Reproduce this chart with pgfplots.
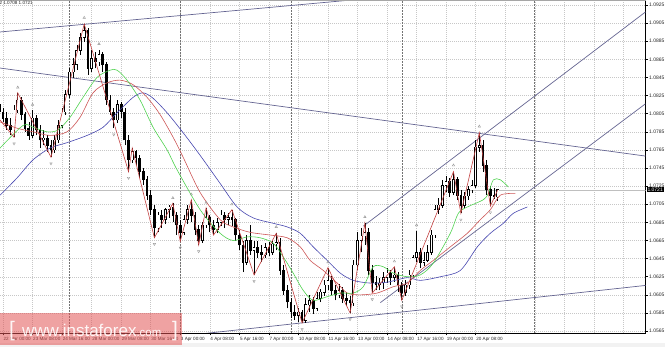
\documentclass[border=0pt]{standalone}
\usepackage{fontspec}
\setmainfont{Liberation Sans}
\usepackage{pgfplots}
\usepackage{pgfplotstable}
\pgfplotsset{compat=1.18}
\definecolor{maGreen}{RGB}{80,210,80}
\definecolor{maRed}{RGB}{205,85,85}
\definecolor{maBlue}{RGB}{70,70,175}
\definecolor{zzRed}{RGB}{195,65,65}
\definecolor{trend}{RGB}{100,100,145}
\definecolor{wm}{RGB}{225,85,85}

\pgfplotstableread{
i o h l c
-1 1.0815 1.0822 1.0800 1.0807
0 1.0807 1.0811 1.0796 1.0800
1 1.0800 1.0807 1.0787 1.0792
2 1.0792 1.0800 1.0781 1.0787
3 1.0787 1.0815 1.0779 1.0809
4 1.0809 1.0828 1.0806 1.0820
5 1.0820 1.0823 1.0798 1.0804
6 1.0804 1.0807 1.0785 1.0789
7 1.0789 1.0796 1.0776 1.0781
8 1.0781 1.0809 1.0778 1.0800
9 1.0800 1.0804 1.0781 1.0787
10 1.0787 1.0792 1.0767 1.0776
11 1.0776 1.0787 1.0770 1.0778
12 1.0778 1.0781 1.0763 1.0770
13 1.0770 1.0776 1.0757 1.0765
14 1.0765 1.0781 1.0762 1.0776
15 1.0776 1.0798 1.0773 1.0792
16 1.0792 1.0811 1.0789 1.0807
17 1.0807 1.0831 1.0804 1.0826
18 1.0826 1.0855 1.0822 1.0851
19 1.0851 1.0866 1.0844 1.0859
20 1.0859 1.0881 1.0853 1.0875
21 1.0875 1.0894 1.0870 1.0889
22 1.0889 1.0904 1.0884 1.0897
23 1.0897 1.0900 1.0848 1.0855
24 1.0855 1.0875 1.0851 1.0866
25 1.0866 1.0873 1.0855 1.0862
26 1.0862 1.0875 1.0858 1.0870
27 1.0870 1.0873 1.0851 1.0859
28 1.0859 1.0862 1.0815 1.0820
29 1.0820 1.0826 1.0804 1.0807
30 1.0807 1.0811 1.0789 1.0798
31 1.0798 1.0820 1.0795 1.0815
32 1.0815 1.0818 1.0800 1.0807
33 1.0807 1.0811 1.0770 1.0776
34 1.0776 1.0781 1.0741 1.0754
35 1.0754 1.0767 1.0751 1.0763
36 1.0763 1.0765 1.0748 1.0756
37 1.0756 1.0759 1.0734 1.0741
38 1.0741 1.0745 1.0726 1.0732
39 1.0732 1.0736 1.0710 1.0715
40 1.0715 1.0721 1.0693 1.0699
41 1.0699 1.0704 1.0668 1.0679
42 1.0679 1.0696 1.0674 1.0693
43 1.0693 1.0699 1.0679 1.0688
44 1.0688 1.0701 1.0683 1.0699
45 1.0699 1.0704 1.0690 1.0702
46 1.0702 1.0706 1.0685 1.0693
47 1.0693 1.0696 1.0671 1.0682
48 1.0682 1.0688 1.0664 1.0674
49 1.0674 1.0693 1.0671 1.0688
50 1.0688 1.0704 1.0683 1.0699
51 1.0699 1.0710 1.0685 1.0693
52 1.0693 1.0696 1.0671 1.0677
53 1.0677 1.0682 1.0660 1.0665
54 1.0665 1.0685 1.0662 1.0682
55 1.0682 1.0701 1.0679 1.0690
56 1.0690 1.0693 1.0674 1.0682
57 1.0682 1.0688 1.0671 1.0677
58 1.0677 1.0690 1.0673 1.0685
59 1.0685 1.0699 1.0681 1.0693
60 1.0693 1.0696 1.0679 1.0688
61 1.0688 1.0695 1.0682 1.0690
62 1.0690 1.0699 1.0681 1.0688
63 1.0688 1.0690 1.0665 1.0671
64 1.0671 1.0677 1.0654 1.0660
65 1.0660 1.0665 1.0630 1.0641
66 1.0641 1.0671 1.0638 1.0665
67 1.0665 1.0682 1.0649 1.0654
68 1.0654 1.0665 1.0627 1.0657
69 1.0657 1.0665 1.0646 1.0652
70 1.0652 1.0660 1.0641 1.0649
71 1.0649 1.0662 1.0646 1.0657
72 1.0657 1.0663 1.0648 1.0652
73 1.0652 1.0665 1.0649 1.0661
74 1.0661 1.0673 1.0654 1.0663
75 1.0663 1.0668 1.0627 1.0632
76 1.0632 1.0638 1.0605 1.0610
77 1.0610 1.0616 1.0590 1.0597
78 1.0597 1.0601 1.0579 1.0586
79 1.0586 1.0594 1.0577 1.0582
80 1.0582 1.0590 1.0575 1.0586
81 1.0586 1.0588 1.0574 1.0577
82 1.0577 1.0601 1.0574 1.0594
83 1.0594 1.0605 1.0586 1.0599
84 1.0599 1.0603 1.0584 1.0590
85 1.0590 1.0608 1.0587 1.0601
86 1.0601 1.0612 1.0597 1.0608
87 1.0608 1.0621 1.0604 1.0616
88 1.0616 1.0635 1.0610 1.0621
89 1.0621 1.0626 1.0605 1.0610
90 1.0610 1.0616 1.0599 1.0605
91 1.0605 1.0617 1.0601 1.0610
92 1.0610 1.0614 1.0596 1.0601
93 1.0601 1.0608 1.0593 1.0599
94 1.0599 1.0604 1.0585 1.0596
95 1.0596 1.0643 1.0593 1.0638
96 1.0638 1.0674 1.0632 1.0665
97 1.0665 1.0679 1.0652 1.0670
98 1.0670 1.0684 1.0660 1.0674
99 1.0674 1.0679 1.0627 1.0632
100 1.0632 1.0638 1.0607 1.0619
101 1.0619 1.0626 1.0610 1.0616
102 1.0616 1.0624 1.0610 1.0618
103 1.0618 1.0630 1.0612 1.0624
104 1.0624 1.0635 1.0618 1.0629
105 1.0629 1.0632 1.0616 1.0624
106 1.0624 1.0636 1.0619 1.0627
107 1.0627 1.0630 1.0608 1.0616
108 1.0616 1.0619 1.0599 1.0608
109 1.0608 1.0621 1.0604 1.0616
110 1.0616 1.0632 1.0612 1.0627
111 1.0627 1.0649 1.0624 1.0646
112 1.0646 1.0675 1.0641 1.0652
113 1.0652 1.0657 1.0635 1.0641
114 1.0641 1.0652 1.0637 1.0643
115 1.0643 1.0660 1.0641 1.0652
116 1.0652 1.0677 1.0649 1.0671
117 1.0671 1.0704 1.0668 1.0699
118 1.0699 1.0712 1.0694 1.0704
119 1.0704 1.0732 1.0701 1.0726
120 1.0726 1.0736 1.0718 1.0730
121 1.0730 1.0734 1.0713 1.0718
122 1.0718 1.0741 1.0715 1.0732
123 1.0732 1.0735 1.0710 1.0715
124 1.0715 1.0721 1.0695 1.0704
125 1.0704 1.0718 1.0701 1.0714
126 1.0714 1.0725 1.0710 1.0721
127 1.0721 1.0732 1.0717 1.0726
128 1.0726 1.0776 1.0723 1.0768
129 1.0768 1.0784 1.0763 1.0770
130 1.0770 1.0776 1.0741 1.0748
131 1.0748 1.0754 1.0715 1.0721
132 1.0721 1.0725 1.0703 1.0715
133 1.0715 1.0723 1.0711 1.0713
134 1.0713 1.0722 1.0709 1.0721
}\candles

\begin{document}
\begin{tikzpicture}
\useasboundingbox (0,0) rectangle (665pt,347pt);
\fill[black!5] (0,0) rectangle (665pt,4pt);
\begin{axis}[
  at={(0pt,14pt)}, anchor=south west,
  scale only axis, width=645.5pt, height=332pt,
  xmin=-0.81, xmax=174, ymin=1.05629, ymax=1.09294,
  axis x line*=bottom, axis y line*=right,
  axis line style={black, line width=0.6pt},
  tick align=outside, major tick length=2.5pt,
  tick style={black, line width=0.5pt},
  scaled y ticks=false,
  xtick={0,8,...,128},
  xticklabels={22 Mar 00:00, 23 Mar 08:00, 24 Mar 16:00, 28 Mar 00:00, 29 Mar 08:00, 30 Mar 16:00, 3 Apr 00:00, 4 Apr 08:00, 5 Apr 16:00, 7 Apr 00:00, 10 Apr 08:00, 11 Apr 16:00, 13 Apr 00:00, 14 Apr 08:00, 17 Apr 16:00, 19 Apr 00:00, 20 Apr 08:00},
  extra x ticks={136,144,152,160,168},
  extra x tick labels={},
  extra x tick style={grid=major, major tick length=0pt},
  ytick={1.0565,1.0585,1.0605,1.0625,1.0645,1.0665,1.0685,1.0705,1.0725,1.0745,1.0765,1.0785,1.0805,1.0825,1.0845,1.0865,1.0885,1.0905,1.0925},
  grid=major,
  major grid style={draw=black!22, dash pattern=on 1pt off 1pt, line width=0.4pt},
  xticklabel style={font=\fontsize{4.6}{5}\selectfont, anchor=north west, inner sep=0pt, xshift=0.5pt, yshift=-2pt, text=black!85},
  yticklabel style={font=\fontsize{5}{6}\selectfont, anchor=west, inner sep=0pt, xshift=1pt, text=black!85,
    /pgf/number format/.cd, fixed, fixed zerofill, precision=4, assume math mode=true},
]
% period separators
\addplot[black!55, dash pattern=on 1.5pt off 1.5pt, line width=0.5pt, forget plot] coordinates {(18,1.05) (18,1.10)};
\addplot[black!55, dash pattern=on 1.5pt off 1.5pt, line width=0.5pt, forget plot] coordinates {(48,1.05) (48,1.10)};
\addplot[black!55, dash pattern=on 1.5pt off 1.5pt, line width=0.5pt, forget plot] coordinates {(78,1.05) (78,1.10)};
\addplot[black!55, dash pattern=on 1.5pt off 1.5pt, line width=0.5pt, forget plot] coordinates {(108,1.05) (108,1.10)};
\addplot[black!55, dash pattern=on 1.5pt off 1.5pt, line width=0.5pt, forget plot] coordinates {(144,1.05) (144,1.10)};
% current price line
\addplot[black!25, line width=0.5pt, forget plot] coordinates {(-1,1.0721) (175,1.0721)};
% trend lines
\addplot[trend, line width=0.7pt, forget plot] coordinates {(-0.81,1.08952) (107.6,1.09354)};
\addplot[trend, line width=0.7pt, forget plot] coordinates {(-0.81,1.08554) (174,1.07582)};
\addplot[trend, line width=0.7pt, forget plot] coordinates {(48,1.05594) (174,1.06154)};
\addplot[trend, line width=0.7pt, forget plot] coordinates {(97.6,1.06809) (174,1.09173)};
\addplot[trend, line width=0.7pt, forget plot] coordinates {(102.2,1.05964) (174,1.08159)};
% candles: wicks
\addplot[draw=none, mark=none, forget plot,
  error bars/.cd, y dir=plus, y explicit, error mark=none,
  error bar style={draw=black, line width=0.6pt}]
  table[x=i, y=l, y error plus expr={\thisrow{h}-\thisrow{l}}] {\candles};
% bodies
\addplot[draw=none, mark=none, forget plot,
  error bars/.cd, y dir=plus, y explicit, error mark=none,
  error bar style={draw=black, line width=2.7pt}]
  table[x=i, y expr={min(\thisrow{o},\thisrow{c})-0.00004}, y error plus expr={abs(\thisrow{c}-\thisrow{o})+0.00008}] {\candles};
\addplot[draw=none, mark=none, forget plot,
  error bars/.cd, y dir=plus, y explicit, error mark=none,
  error bar style={draw=white, line width=1.5pt}]
  table[x=i, y expr={\thisrow{o}+0.00003}, y error plus expr={max(\thisrow{c}-\thisrow{o}-0.00006,0)}] {\candles};
% alligator lines
\addplot[maBlue, line width=0.6pt, smooth, forget plot] coordinates {
(-0.81,1.0715) (3.79,1.0734) (8.13,1.0754) (12.74,1.0767) (17.34,1.0773) (22.76,1.0781) (27.10,1.0790) (30.89,1.0806) (35.23,1.0823) (37.94,1.0828) (40.65,1.0822) (44.44,1.0806) (48.78,1.0784) (53.39,1.0759) (58.81,1.0728) (63.41,1.0702) (67.75,1.0690) (73.17,1.0684) (76.96,1.0680) (80.49,1.0673) (84.01,1.0658) (87.80,1.0643) (91.33,1.0629) (94.85,1.0621) (99.46,1.0618) (104.07,1.0619) (109.49,1.0624) (113.01,1.0621) (118.43,1.0625) (123.85,1.0632) (128.46,1.0658) (131.98,1.0673) (135.50,1.0684) (138.21,1.0695) (142.01,1.0702)};
\addplot[maRed, line width=0.6pt, smooth, forget plot] coordinates {
(-0.81,1.0796) (3.79,1.0789) (8.13,1.0785) (12.74,1.0781) (17.34,1.0785) (20.87,1.0801) (24.39,1.0828) (28.18,1.0839) (31.71,1.0842) (35.23,1.0837) (39.02,1.0823) (42.55,1.0804) (46.07,1.0779) (48.78,1.0757) (53.39,1.0718) (58.81,1.0688) (62.33,1.0680) (66.94,1.0674) (72.36,1.0671) (76.96,1.0668) (80.49,1.0658) (83.20,1.0643) (86.72,1.0632) (90.51,1.0618) (93.22,1.0607) (96.75,1.0605) (101.36,1.0607) (105.69,1.0614) (109.49,1.0618) (113.01,1.0632) (116.53,1.0643) (121.14,1.0658) (125.75,1.0673) (129.27,1.0688) (131.98,1.0699) (134.69,1.0715) (138.75,1.0717)};
\addplot[maGreen, line width=0.6pt, smooth, forget plot] coordinates {
(-0.81,1.0767) (5.42,1.0792) (8.13,1.0790) (11.92,1.0785) (14.91,1.0787) (18.16,1.0801) (21.68,1.0823) (25.47,1.0845) (28.99,1.0853) (30.89,1.0853) (33.60,1.0842) (37.13,1.0820) (40.65,1.0790) (44.44,1.0765) (47.15,1.0743) (53.39,1.0699) (58.81,1.0673) (62.33,1.0665) (66.12,1.0669) (69.65,1.0668) (73.17,1.0662) (75.88,1.0647) (78.59,1.0629) (81.30,1.0610) (84.01,1.0599) (87.80,1.0603) (91.33,1.0607) (94.85,1.0607) (97.56,1.0614) (100.27,1.0636) (102.98,1.0636) (105.69,1.0629) (109.49,1.0625) (113.01,1.0627) (116.53,1.0640) (121.14,1.0673) (123.31,1.0695) (125.75,1.0702) (130.08,1.0710) (131.44,1.0717) (132.79,1.0732) (134.69,1.0732) (136.86,1.0724)};
% zigzag
\addplot[zzRed, line width=0.6pt, forget plot] coordinates {
(-0.81,1.0798) (3,1.0779) (4,1.0828) (13,1.0757) (22,1.0904) (34,1.0741) (35,1.0767) (41,1.0668) (46,1.0706) (48,1.0664) (51,1.0710) (53,1.0660) (55,1.0701) (57,1.0671) (62,1.0699) (68,1.0627) (74,1.0673) (81,1.0574) (88,1.0635) (94,1.0585) (98,1.0684) (100,1.0607) (106,1.0636) (108,1.0599) (122,1.0741) (124,1.0695) (129,1.0784) (132,1.0703) (134,1.0721)};
% fractals
\addplot[black!40, only marks, mark=triangle, mark size=1.4pt, line width=0.4pt, forget plot] coordinates {
(4,1.0834) (8,1.0815) (22,1.0911) (26,1.0882) (46,1.0712) (51,1.0716) (55,1.0707) (62,1.0705) (74,1.0680) (88,1.0641) (98,1.0691) (106,1.0642) (112,1.0682) (122,1.0748) (129,1.0791)};
\addplot[black!40, only marks, mark=triangle, mark size=1.4pt, line width=0.4pt, mark options={rotate=180}, forget plot] coordinates {
(3,1.0772) (10,1.0760) (13,1.0750) (30,1.0782) (34,1.0734) (41,1.0661) (48,1.0657) (53,1.0653) (68,1.0620) (81,1.0567) (94,1.0578) (100,1.0600) (108,1.0592) (124,1.0688) (132,1.0696)};
\coordinate (pricept) at (axis cs:174,1.0721);
\end{axis}
% top border
\draw[black!35, line width=0.5pt] (0,346.6pt) -- (646pt,346.6pt);
% header
\node[anchor=north east, inner sep=0pt, font=\fontsize{4.6}{5}\selectfont, text=black!85] at (33pt,345.5pt) {EURUSD,H4 1.0713 1.0722 1.0708 1.0721};
% current price box
\node[anchor=west, fill=black, text=white, inner xsep=0.8pt, inner ysep=0.9pt, font=\fontsize{5}{6}\selectfont, xshift=1pt] at (pricept) {1.0721};
% watermark
\fill[wm, fill opacity=0.55] (0,2pt) rectangle (182pt,34pt);
\node[anchor=base west, inner sep=0pt, text=white, text opacity=0.9, font=\fontsize{21}{21}\selectfont] at (9pt,10pt) {[};
\node[anchor=base west, inner sep=0pt, text=white, text opacity=0.9] at (22pt,10pt) {\fontsize{17}{17}\selectfont www.instaforex\fontsize{11.5}{12}\selectfont.com};
\node[anchor=base west, inner sep=0pt, text=white, text opacity=0.9, font=\fontsize{21}{21}\selectfont] at (172pt,10pt) {]};
\end{tikzpicture}
\end{document}
